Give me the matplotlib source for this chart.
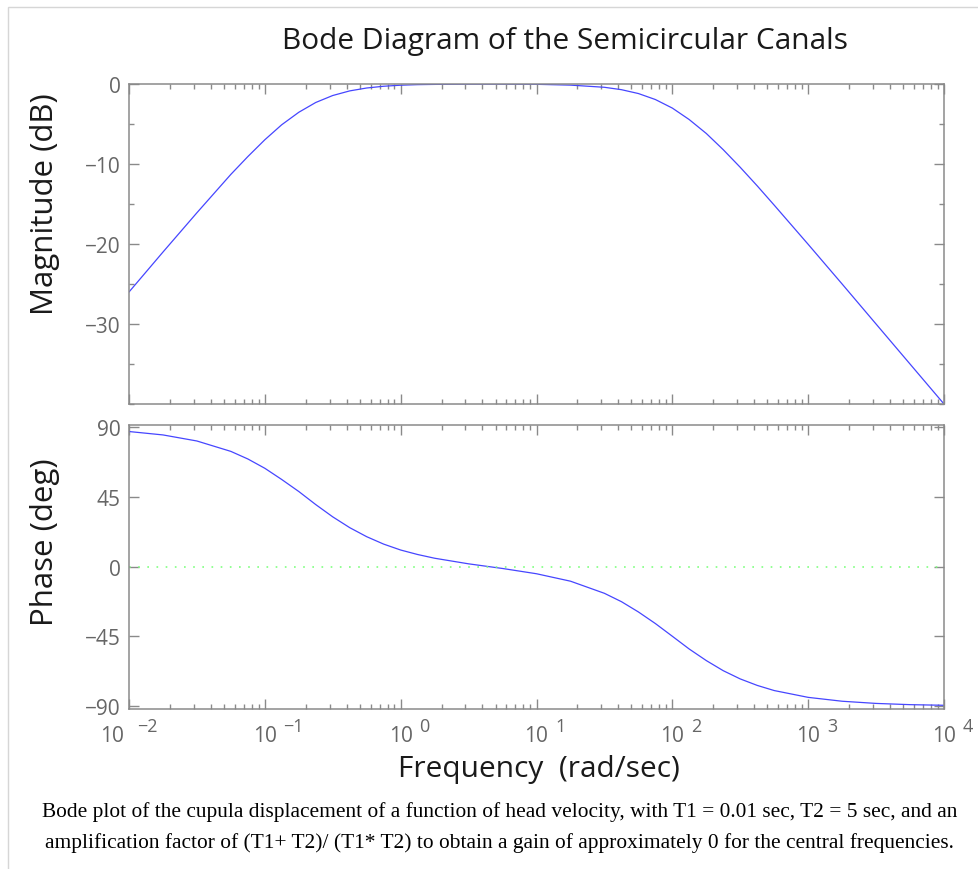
import numpy as np
import matplotlib.pyplot as plt
from matplotlib.ticker import LogLocator, MultipleLocator, NullFormatter, FixedLocator
from matplotlib.patches import Rectangle

plt.rcParams['font.family'] = ['Open Sans', 'DejaVu Sans']

# Frequency points (rad/sec) and values
freq = [0.01, 0.0178, 0.0316, 0.0562, 0.075, 0.1, 0.133, 0.178, 0.237, 0.316,
        0.422, 0.562, 0.75, 1, 1.334, 1.78, 3.16, 5.62, 10, 17.8, 31.6, 42.2,
        56.2, 75, 100, 133, 178, 237, 316, 422, 562, 1000, 1780, 3160, 5620, 10000]
magnitude = [-26.0, -21.0, -16.1, -11.3, -9.07, -6.97, -5.10, -3.53, -2.31, -1.44,
             -0.86, -0.50, -0.28, -0.15, -0.08, -0.05, -0.02, -0.02, -0.04, -0.14,
             -0.41, -0.71, -1.19, -1.94, -3.01, -4.44, -6.19, -8.21, -10.41, -12.74,
             -15.14, -20.04, -25.01, -30.0, -35.0, -40.0]
phase = [87.1, 84.9, 81.0, 74.3, 69.4, 63.4, 56.2, 48.4, 40.0, 32.1,
         25.1, 19.3, 14.5, 10.7, 7.8, 5.4, 1.8, -1.2, -4.6, -9.4,
         -17.2, -22.6, -29.2, -36.7, -44.9, -53.1, -60.6, -67.1, -72.4, -76.6,
         -79.9, -84.3, -86.8, -88.2, -89.0, -89.4]

mag_ticks = [0, -10, -20, -30]
phase_ticks = [90, 45, 0, -45, -90]
decades = [-2, -1, 0, 1, 2, 3, 4]

line_col = '#4646ff'
axis_col = '#8a8a8a'
label_col = '#666666'
text_col = '#1a1a1a'

fig = plt.figure(figsize=(9.79, 8.7), dpi=100)

# light frame around the picture
fig.patches.append(Rectangle((8 / 979, -0.1), 1.2, 1 - 8 / 870 + 0.1,
                             transform=fig.transFigure, fill=False,
                             edgecolor='#d6d6d6', linewidth=1))

ax1 = fig.add_axes([129 / 979, 1 - 405 / 870, 815 / 979, 320 / 870])
ax2 = fig.add_axes([129 / 979, 1 - 710 / 870, 815 / 979, 284.3 / 870])


def style(ax):
    ax.set_xscale('log')
    ax.set_xlim(1e-2, 1e4)
    for s in ax.spines.values():
        s.set_color(axis_col)
        s.set_linewidth(1.1)
    ax.tick_params(which='both', direction='in', top=True, right=True,
                   color=axis_col, labelcolor=label_col, labelsize=15)
    ax.tick_params(which='major', length=7, width=1, pad=6)
    ax.tick_params(which='minor', length=3.5, width=1)
    ax.xaxis.set_major_locator(LogLocator(base=10, numticks=10))
    ax.xaxis.set_minor_locator(LogLocator(base=10, subs=np.arange(2, 10), numticks=20))
    ax.xaxis.set_minor_formatter(NullFormatter())
    ax.xaxis.set_major_formatter(NullFormatter())


style(ax1)
ax1.plot(freq, magnitude, color=line_col, linewidth=0.9)
ax1.set_ylim(-40, 0)
ax1.yaxis.set_major_locator(FixedLocator(mag_ticks))
ax1.yaxis.set_minor_locator(MultipleLocator(5))
ax1.set_yticklabels(['0', '\u221210', '\u221220', '\u221230'])

style(ax2)
ax2.plot(freq, phase, color=line_col, linewidth=0.9)
ax2.axhline(0, color='#80ff80', linestyle=(0, (1, 4.5)), linewidth=1.2)
ax2.set_ylim(-91.8, 91.5)
ax2.yaxis.set_major_locator(FixedLocator(phase_ticks))
ax2.set_yticklabels(['90', '45', '0', '\u221245', '\u221290'])

# decade labels in MATLAB style: "10" with a large raised exponent
for d in decades:
    base_dx = -12.6 if d == decades[0] else 0
    exp_dx = base_dx + (18.5 if d == decades[0] else 13.5)
    ax2.annotate('10', xy=(10.0 ** d, 0), xycoords=('data', 'axes fraction'),
                 xytext=(base_dx, -19), textcoords='offset points',
                 ha='center', va='center', fontsize=15, color=label_col)
    ax2.annotate(str(d).replace('-', '\u2212'), xy=(10.0 ** d, 0),
                 xycoords=('data', 'axes fraction'),
                 xytext=(exp_dx, -12), textcoords='offset points',
                 ha='left', va='center', fontsize=13, color=label_col)

fig.text(0.577, 0.952, 'Bode Diagram of the Semicircular Canals',
         ha='center', va='center', fontsize=21.5, color=text_col)
fig.text(0.046, 0.7655, 'Magnitude (dB)', rotation=90,
         ha='center', va='center', fontsize=22.5, color=text_col)
fig.text(0.046, 0.377, 'Phase (deg)', rotation=90,
         ha='center', va='center', fontsize=22.5, color=text_col)
fig.text(0.551, 0.115, 'Frequency  (rad/sec)',
         ha='center', va='center', fontsize=21.5, color=text_col)

fig.text(0.510, 0.0667,
         'Bode plot of the cupula displacement of a function of head velocity, '
         'with T1 = 0.01 sec, T2 = 5 sec, and an',
         ha='center', va='center', fontsize=15.4, family='Liberation Serif', color='black')
fig.text(0.510, 0.031,
         'amplification factor of (T1+ T2)/ (T1* T2) to obtain a gain of '
         'approximately 0 for the central frequencies.',
         ha='center', va='center', fontsize=15.4, family='Liberation Serif', color='black')

fig.savefig('out.png', dpi=100)
